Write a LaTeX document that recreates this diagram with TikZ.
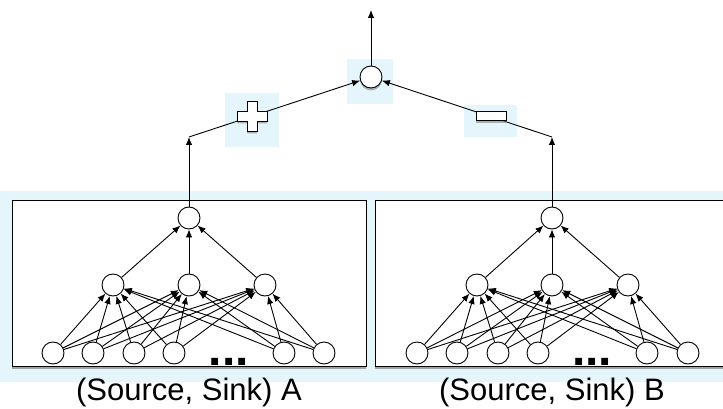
\documentclass[tikz,border=0pt]{standalone}
\usepackage{fontspec}
\setmainfont{Liberation Sans}
\usetikzlibrary{arrows.meta,shadows}
\definecolor{glowblue}{RGB}{228,246,252}
\begin{document}
\begin{tikzpicture}
    [x=1pt,y=-1pt,line width=0.9pt,
    unit/.style = {circle,draw,fill=white,
                minimum size=22pt,inner sep=0pt},
    link/.style = {-{Latex[length=8pt,width=6.5pt]}},
    frame/.style = {draw,fill=white,
                drop shadow={shadow xshift=0pt,shadow yshift=-3pt,opacity=0.7}},
    sign/.style = {draw,fill=white,
                drop shadow={shadow xshift=0pt,shadow yshift=-2.5pt,opacity=0.6}},
    caption/.style = {font=\fontsize{31}{36}\selectfont}]
    \clip (0,0) rectangle (723,409);
    % Glow behind the parts
    \fill[glowblue] (0,191) rectangle (723,382);
    \fill[glowblue] (347,59) rectangle (393,104);
    \fill[glowblue] (225,93) rectangle (279,147);
    \fill[glowblue] (464,105) rectangle (517,137);
    % Boxes
    \path[frame] (12,200) rectangle (366,366);
    \path[frame] (375,200) rectangle (740,366);
    % Network A
    \node[unit] (aT) at (189,218) {};
    \node[unit] (aM1) at (113,285) {};
    \node[unit] (aM2) at (189,285) {};
    \node[unit] (aM3) at (265,285) {};
    \node[unit] (aB1) at (53,353) {};
    \node[unit] (aB2) at (93,353) {};
    \node[unit] (aB3) at (134,353) {};
    \node[unit] (aB4) at (174,353) {};
    \node[unit] (aB5) at (284,353) {};
    \node[unit] (aB6) at (324,353) {};
    \node[font=\fontsize{48}{48}\selectfont\bfseries,anchor=base,inner sep=0pt] (aDots) at (229,365) {...};
    % Network B
    \node[unit] (bT) at (552,218) {};
    \node[unit] (bM1) at (477,285) {};
    \node[unit] (bM2) at (552,285) {};
    \node[unit] (bM3) at (628,285) {};
    \node[unit] (bB1) at (417,353) {};
    \node[unit] (bB2) at (457,353) {};
    \node[unit] (bB3) at (498,353) {};
    \node[unit] (bB4) at (538,353) {};
    \node[unit] (bB5) at (647,353) {};
    \node[unit] (bB6) at (688,353) {};
    \node[font=\fontsize{48}{48}\selectfont\bfseries,anchor=base,inner sep=0pt] (bDots) at (592,365) {...};
    % Connections
    \foreach \s in {1,...,6}
        \foreach \t in {1,2,3}
            {\draw[link] (aB\s) -- (aM\t);
             \draw[link] (bB\s) -- (bM\t);}
    \foreach \t in {1,2,3}
        {\draw[link] (aM\t) -- (aT);
         \draw[link] (bM\t) -- (bT);}
    % Combination
    \node[unit,sign] (out) at (371,77) {};
    \coordinate (top) at (371,10);
    \coordinate (bendA) at (189,137);
    \coordinate (bendB) at (552,137);
    \draw[link] (aT) -- (bendA);
    \draw[link] (bT) -- (bendB);
    \draw[link] (bendA) -- (out);
    \draw[link] (bendB) -- (out);
    \draw[link] (out) -- (top);
    % Signs
    \node[inner sep=0pt,minimum size=30pt] (plus) at (252,116) {};
    \path[sign] (plus.center) ++(-5,-15) -- ++(10,0) -- ++(0,10) -- ++(10,0)
        -- ++(0,10) -- ++(-10,0) -- ++(0,10) -- ++(-10,0) -- ++(0,-10) -- ++(-10,0)
        -- ++(0,-10) -- ++(10,0) -- cycle;
    \node[sign,minimum width=30pt,minimum height=9pt,inner sep=0pt] (minus) at (491,116) {};
    % Captions
    \node[caption] (capA) at (189,392) {(Source, Sink) A};
    \node[caption] (capB) at (552,392) {(Source, Sink) B};
\end{tikzpicture}
\end{document}
